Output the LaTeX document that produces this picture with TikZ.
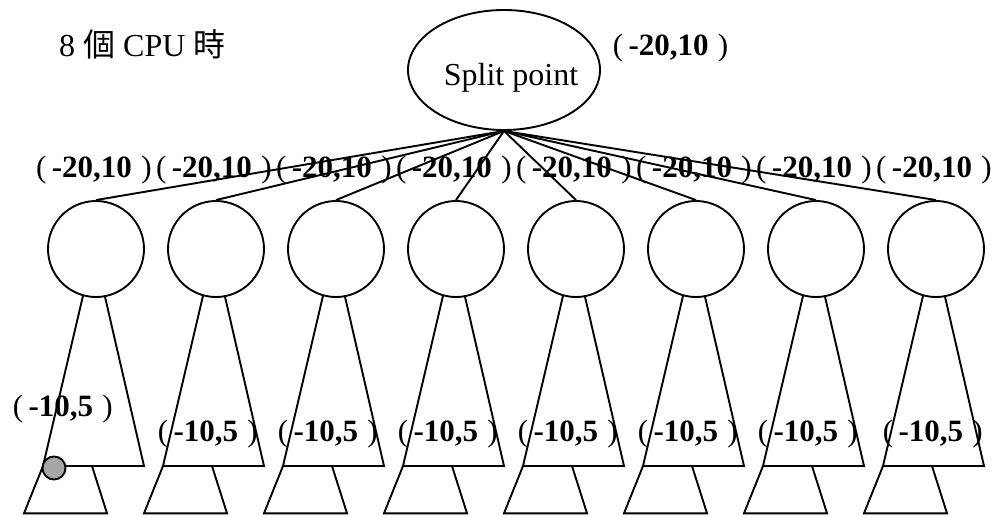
\documentclass[tikz,border=0pt]{standalone}
\usepackage{fontspec}
\setmainfont{Liberation Serif}
\newfontfamily\cjk{Noto Sans CJK TC}
\usetikzlibrary{shapes.geometric}
\definecolor{dotgray}{RGB}{166,166,166}
\tikzset{
  ln/.style={line width=1.9pt, line join=miter},
  lab/.style={inner sep=0pt, anchor=base west, font=\fontsize{31}{37}\selectfont},
  big/.style={inner sep=0pt, font=\fontsize{32}{38}\selectfont},
  leaf/.style={circle, draw, line width=1.9pt, fill=white, minimum size=96pt, inner sep=0pt},
}
\newcommand{\pl}[1]{(\hspace{5.4pt}\textbf{#1}\hspace{9.3pt})}
\begin{document}
\begin{tikzpicture}[x=1pt,y=-1pt]
\useasboundingbox (0,0) rectangle (997,517);
% title
\node[big, anchor=base west] (title) at (59,56) {8 {\cjk 個} CPU {\cjk 時}};
% split point
\node[ellipse, draw, line width=1.9pt, minimum width=192pt, minimum height=120pt, inner sep=0pt] (sp) at (504,70) {};
\node[big, anchor=base] (spt) at (511,85) {Split point};
\node[lab] (splab) at (612.6,55) {\pl{-20,10}};
% trees
\foreach \i in {1,...,8} {
  \pgfmathsetmacro\cx{96+120*(\i-1)}
  \draw[ln] (\cx-2,249) -- (\cx+48,466) -- (\cx-53,466) -- cycle;
  \draw[ln] (\cx-53,466) -- (\cx-4,466) -- (\cx+11,513.3) -- (\cx-72,513.3) -- cycle;
  \node[leaf] (c\i) at (\cx,249) {};
  \node[lab] (t\i) at (\cx-60,177.5) {\pl{-20,10}};
  \draw[ln] (sp.south) -- (c\i.north);
}
% gray point
\node[circle, draw, line width=1.9pt, fill=dotgray, minimum size=23pt, inner sep=0pt] (g) at (54,468) {};
% bottom labels
\node[lab] (b1) at (12.6,416.7) {\pl{-10,5}};
\foreach \i in {2,...,7} {
  \pgfmathsetmacro\cx{96+120*(\i-1)}
  \node[lab] (b\i) at (\cx-58.4,441.7) {\pl{-10,5}};
}
\node[lab] (b8) at (882.6,441.7) {\pl{-10,5}};
\end{tikzpicture}
\end{document}
